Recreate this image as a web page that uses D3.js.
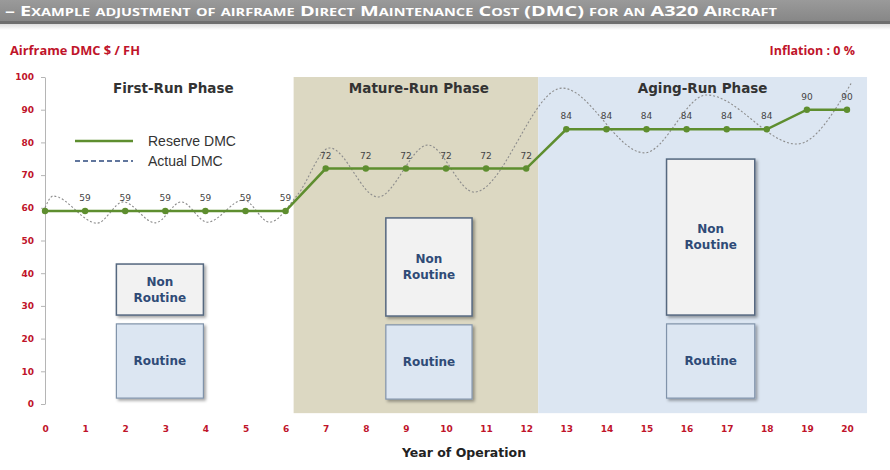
<!DOCTYPE html>
<html><head><meta charset="utf-8">
<script src="https://cdn.jsdelivr.net/npm/d3@7/dist/d3.min.js"></script>
<style>
html,body{margin:0;padding:0;background:#fff;}
svg{display:block;}
</style></head>
<body>
<svg id="chart" width="890" height="470"></svg>
<script>
// ---------- data ----------
const years = d3.range(0, 21);
const reserveDMC = [59,59,59,59,59,59,59,72,72,72,72,72,72,84,84,84,84,84,84,90,90];
// Actual DMC (wavy dashed curve) read at its turning points: [year, value]
const actualYears = [0, 0.2, 1.3, 1.95, 2.75, 3.4, 4.05, 4.95, 5.6, 6.3, 7.1, 8.3, 9.55, 10.7, 12.9, 14.95, 16.5, 18.75, 20.1];
const actualVals  = [60, 63.6, 55.3, 61.8, 55.4, 61.8, 55.6, 62.4, 55.6, 64, 78.3, 63.3, 79.2, 64.8, 96.6, 76.8, 94.5, 79.5, 98];
const phaseNames = ["First-Run Phase", "Mature-Run Phase", "Aging-Run Phase"];
const phaseStart = [0, 6.2, 12.3];
const phaseEnd   = [6.2, 12.3, 20.5];
// illustrative cost blocks per phase (year range, value ranges)
const boxStart = [1.78, 8.5, 15.5];
const boxEnd   = [3.95, 10.65, 17.7];
const routineLow = [1.8, 1.5, 1.8];
const routineHigh = [24.5, 24.2, 24.5];
const nonRoutineLow = [27.2, 26.9, 27.2];
const nonRoutineHigh = [42.8, 56.9, 74.9];
const yTicks = [0,10,20,30,40,50,60,70,80,90,100];
const titleText = "– Example adjustment of airframe Direct Maintenance Cost (DMC) for an A320 Aircraft";

// ---------- layout ----------
const svg = d3.select("#chart");
const x = d3.scaleLinear().domain([0, 20]).range([45, 847]);
const y = d3.scaleLinear().domain([0, 100]).range([404, 77]);
const red = "#c0142a";

const defs = svg.append("defs");
const g1 = defs.append("linearGradient").attr("id","bar").attr("x1",0).attr("y1",0).attr("x2",0).attr("y2",1);
g1.append("stop").attr("offset","0").attr("stop-color","#9a9a9a");
g1.append("stop").attr("offset","1").attr("stop-color","#878787");
const g2 = defs.append("linearGradient").attr("id","shade").attr("x1",0).attr("y1",0).attr("x2",0).attr("y2",1);
g2.append("stop").attr("offset","0").attr("stop-color","#dcdcdc");
g2.append("stop").attr("offset","1").attr("stop-color","#ffffff");
const f = defs.append("filter").attr("id","sh").attr("x","-10%").attr("y","-10%").attr("width","130%").attr("height","130%");
f.append("feDropShadow").attr("dx",2).attr("dy",2).attr("stdDeviation",1.5).attr("flood-color","#000").attr("flood-opacity",0.35);

// title bar
svg.append("rect").attr("x",0).attr("y",0).attr("width",890).attr("height",21).attr("fill","url(#bar)");
svg.append("rect").attr("x",0).attr("y",21).attr("width",890).attr("height",3).attr("fill","#6e6e6e");
svg.append("rect").attr("x",0).attr("y",24).attr("width",890).attr("height",6).attr("fill","url(#shade)");
svg.append("text").attr("x",5).attr("y",16)
  .attr("font-family","'Open Sans', sans-serif").attr("font-weight","bold")
  .attr("font-size",15).style("font-variant","small-caps").attr("fill","#fff")
  .attr("textLength",772).attr("lengthAdjust","spacingAndGlyphs")
  .text(titleText);

svg.append("text").attr("x",10).attr("y",55).attr("fill",red)
  .attr("font-family","'Open Sans', sans-serif").attr("font-weight","bold").attr("font-size",12.5)
  .attr("textLength",130).attr("lengthAdjust","spacingAndGlyphs")
  .text("Airframe  DMC $ / FH");
svg.append("text").attr("x",855).attr("y",55).attr("fill",red).attr("text-anchor","end")
  .attr("font-family","'Open Sans', sans-serif").attr("font-weight","bold").attr("font-size",12.5)
  .text("Inflation : 0 %");

// phase backgrounds
const phaseFill = ["#ffffff", "#dcd8c2", "#dce6f2"];
svg.append("g").selectAll("rect").data(phaseNames).join("rect")
  .attr("x",(d,i)=>x(phaseStart[i])).attr("width",(d,i)=>x(phaseEnd[i])-x(phaseStart[i]))
  .attr("y",y(100)).attr("height",y(-2.8)-y(100))
  .attr("fill",(d,i)=>phaseFill[i]);

// phase titles
svg.append("g").selectAll("text").data(phaseNames).join("text")
  .attr("x",(d,i)=>x((phaseStart[i]+phaseEnd[i])/2)+ (i===0?4:(i===1?3:0)))
  .attr("y",93).attr("text-anchor","middle")
  .attr("font-family","'DejaVu Sans', sans-serif").attr("font-weight","bold")
  .attr("font-size",13.5).attr("fill","#333").text(d=>d);

// boxes
const boxG = svg.append("g");
phaseNames.forEach((p,i)=>{
  const x0 = x(boxStart[i]), w = x(boxEnd[i]) - x(boxStart[i]);
  boxG.append("rect").attr("x",x0).attr("width",w)
    .attr("y",y(nonRoutineHigh[i])).attr("height",y(nonRoutineLow[i])-y(nonRoutineHigh[i]))
    .attr("fill","#f2f2f2").attr("stroke","#55677f").attr("stroke-width",1.5).attr("filter","url(#sh)");
  boxG.append("rect").attr("x",x0).attr("width",w)
    .attr("y",y(routineHigh[i])).attr("height",y(routineLow[i])-y(routineHigh[i]))
    .attr("fill","#dce6f2").attr("stroke","#8093aa").attr("stroke-width",1.2).attr("filter","url(#sh)");
  const cy = (y(nonRoutineHigh[i])+y(nonRoutineLow[i]))/2;
  const t = boxG.append("text").attr("text-anchor","middle")
    .attr("font-family","'DejaVu Sans', sans-serif").attr("font-weight","bold")
    .attr("font-size",12).attr("fill","#2f4b77");
  t.append("tspan").attr("x",x0+w/2).attr("y",cy-4).text("Non");
  t.append("tspan").attr("x",x0+w/2).attr("y",cy+12).text("Routine");
  const ry = (y(routineHigh[i])+y(routineLow[i]))/2;
  boxG.append("text").attr("x",x0+w/2).attr("y",ry+4).attr("text-anchor","middle")
    .attr("font-family","'DejaVu Sans', sans-serif").attr("font-weight","bold")
    .attr("font-size",12).attr("fill","#2f4b77").text("Routine");
});

// y axis
const yAxis = svg.append("g").attr("transform",`translate(${x(0)},0)`)
  .call(d3.axisLeft(y).tickValues(yTicks).tickSize(4).tickPadding(7).tickSizeOuter(0));
yAxis.select(".domain").attr("stroke","#b5b5b5");
yAxis.selectAll(".tick line").attr("stroke","#b5b5b5");
yAxis.selectAll("text").attr("fill",red).attr("font-family","'DejaVu Sans', sans-serif")
  .attr("font-weight","bold").attr("font-size",9);

// x labels
const xAxis = svg.append("g").attr("transform",`translate(0,422)`)
  .call(d3.axisBottom(x).tickValues(years).tickSize(0).tickPadding(4).tickFormat(d3.format("d")));
xAxis.select(".domain").remove();
xAxis.selectAll("text").attr("fill",red).attr("font-family","'DejaVu Sans', sans-serif")
  .attr("font-weight","bold").attr("font-size",9);

svg.append("text").attr("x",464).attr("y",457).attr("text-anchor","middle")
  .attr("font-family","'DejaVu Sans', sans-serif").attr("font-weight","bold")
  .attr("font-size",12.5).attr("fill","#222").text("Year of Operation");

// actual DMC curve
const actual = actualYears.map((yr,i)=>[yr, actualVals[i]]);
svg.append("path").datum(actual)
  .attr("d", d3.line().x(d=>x(d[0])).y(d=>y(d[1])).curve(d3.curveMonotoneX))
  .attr("fill","none").attr("stroke","#8c8c8c").attr("stroke-width",1.1)
  .attr("stroke-dasharray","2,2");

// reserve DMC line
const reserve = years.map((yr,i)=>[yr, reserveDMC[i]]);
svg.append("path").datum(reserve)
  .attr("d", d3.line().x(d=>x(d[0])).y(d=>y(d[1])))
  .attr("fill","none").attr("stroke","#5e8e2f").attr("stroke-width",2.6);
svg.append("g").selectAll("circle").data(reserve).join("circle")
  .attr("cx",d=>x(d[0])).attr("cy",d=>y(d[1])).attr("r",3.2).attr("fill","#5e8e2f");
svg.append("g").selectAll("text").data(reserve.slice(1)).join("text")
  .attr("x",d=>x(d[0])).attr("y",d=>y(d[1])-10).attr("text-anchor","middle")
  .attr("font-family","'DejaVu Sans', sans-serif").attr("font-size",9).attr("fill","#444")
  .text(d=>d[1]);

// legend
const lg = svg.append("g");
lg.append("line").attr("x1",75).attr("x2",133).attr("y1",141).attr("y2",141)
  .attr("stroke","#5e8e2f").attr("stroke-width",2.6);
lg.append("line").attr("x1",75).attr("x2",133).attr("y1",161).attr("y2",161)
  .attr("stroke","#2e4a7d").attr("stroke-width",1.6).attr("stroke-dasharray","5,3");
lg.append("text").attr("x",148).attr("y",146).attr("font-family","'Liberation Sans', Arial, sans-serif")
  .attr("font-size",14).attr("fill","#333").text("Reserve DMC");
lg.append("text").attr("x",148).attr("y",166).attr("font-family","'Liberation Sans', Arial, sans-serif")
  .attr("font-size",14).attr("fill","#333").text("Actual DMC");
</script>
</body></html>
